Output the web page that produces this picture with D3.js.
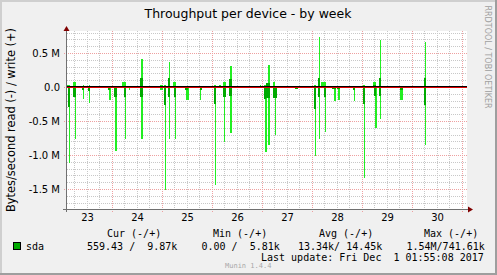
<!DOCTYPE html>
<html>
<head>
<meta charset="utf-8">
<script src="https://cdn.jsdelivr.net/npm/d3@7"></script>
<style>
  body { margin: 0; background: #ffffff; }
  svg text { font-family: "DejaVu Sans", sans-serif; }
  svg text.mono { font-family: "DejaVu Sans Mono", monospace; white-space: pre; }
</style>
</head>
<body>
<svg id="chart" width="497" height="275"></svg>
<script>
// Samples: [start hour, end hour, value in M bytes/s], hours counted from Nov 23 00:00
// write (+) peaks, light green
let writePeak = [
  [2.2, 3.8, 0.03], [5.0, 6.5, 0.07], [9.6, 10.1, 0.03], [12.7, 13.2, 0.03],
  [17.8, 18.2, 0.02], [28.6, 30.5, 0.08], [33.1, 33.6, 0.02], [37.9, 38.6, 0.41],
  [47.0, 48.2, 0.03], [48.5, 49.7, 0.03], [51.1, 51.8, 0.37], [53.0, 54.7, 0.07],
  [72.5, 73.7, 0.03], [75.1, 76.1, 0.03], [77.0, 78.5, 0.08], [80.6, 81.4, 0.31],
  [86.9, 87.4, 0.02], [94.6, 95.3, 0.03], [96.5, 97.9, 0.03], [98.4, 99.6, 0.32],
  [101.0, 102.0, 0.07], [111.6, 113.0, 0.02], [113.5, 114.5, 0.02], [117.1, 118.3, 0.02],
  [120.5, 121.9, 0.03], [122.9, 123.6, 0.73], [124.3, 126.5, 0.07], [127.9, 131.3, 0.02],
  [135.1, 137.0, 0.02], [140.6, 141.4, 0.02], [144.0, 145.4, 0.03], [146.9, 147.8, 0.02],
  [148.8, 150.7, 0.07], [152.2, 153.1, 0.69], [159.8, 161.0, 0.02], [163.9, 164.9, 0.02],
  [173.8, 174.7, 0.66],
];

// write (+) averages, dark green
let writeAvg = [
  [5.0, 5.8, 0.02], [28.6, 30.0, 0.02], [37.4, 38.6, 0.13], [50.4, 51.8, 0.13],
  [52.6, 54.0, 0.02], [79.9, 81.4, 0.12], [97.9, 99.6, 0.06], [122.4, 123.6, 0.13],
  [148.8, 150.5, 0.03], [151.7, 153.1, 0.13], [173.3, 174.7, 0.13],
];

// read (-) peaks, light green
let readPeak = [
  [3.1, 3.6, -1.12], [6.0, 6.5, -0.76], [9.6, 10.1, -0.17], [12.7, 13.2, -0.23],
  [22.3, 23.3, -0.19], [25.0, 26.2, -0.94], [29.8, 30.5, -0.77], [31.7, 32.2, -0.04],
  [37.9, 38.6, -0.76], [47.0, 48.0, -0.05], [49.0, 49.7, -1.52], [51.1, 51.6, -0.77],
  [53.8, 54.5, -0.76], [59.5, 60.5, -0.19], [66.2, 66.7, -0.19], [73.0, 73.7, -1.44],
  [77.5, 78.2, -0.81], [80.6, 81.4, -0.68], [97.0, 98.2, -0.96], [98.6, 99.4, -0.86],
  [101.8, 102.5, -0.71], [121.0, 121.9, -1.01], [122.9, 123.4, -0.76], [125.8, 126.5, -0.66],
  [130.1, 131.3, -0.2], [132.0, 133.2, -0.19], [139.7, 140.4, -0.2], [144.5, 145.4, -1.34],
  [150.0, 151.0, -0.6], [152.2, 152.9, -0.47], [162.2, 163.2, -0.19], [173.8, 174.2, -0.86],
  [174.2, 174.7, -0.63],
];

// read (-) averages, dark green
let readAvg = [
  [2.6, 3.8, -0.29], [5.0, 6.5, -0.15], [9.4, 10.1, -0.04], [12.2, 13.2, -0.06],
  [21.8, 22.8, -0.04], [24.7, 26.2, -0.14], [29.5, 30.5, -0.15], [37.4, 38.6, -0.14],
  [48.5, 49.7, -0.26], [50.4, 51.8, -0.14], [53.5, 54.7, -0.14], [59.0, 60.2, -0.05],
  [65.8, 67.0, -0.04], [72.5, 73.7, -0.25], [77.0, 78.5, -0.14], [79.9, 81.4, -0.13],
  [96.5, 97.9, -0.17], [97.9, 99.6, -0.16], [101.0, 103.0, -0.16], [111.6, 113.0, -0.02],
  [120.5, 121.9, -0.33], [122.4, 123.6, -0.14], [125.5, 126.5, -0.14], [129.6, 131.3, -0.03],
  [131.8, 133.2, -0.03], [139.2, 140.6, -0.04], [144.0, 145.4, -0.25], [149.3, 150.7, -0.13],
  [151.7, 153.1, -0.13], [161.8, 163.2, -0.04], [173.3, 174.5, -0.26],
];

// Axis labels
let dayLabels = ["23", "24", "25", "26", "27", "28", "29", "30"];
let yTicks = [0.5, 0, -0.5, -1.0, -1.5];
let yTickLabels = ["0.5 M", "0.0", "-0.5 M", "-1.0 M", "-1.5 M"];

// Legend
let legendHeads = ["Cur (-/+)", "Min (-/+)", "Avg (-/+)", "Max (-/+)"];
let legendValues = ["559.43 /  9.87k", "0.00 /  5.81k", "13.34k/ 14.45k", "1.54M/741.61k"];
let lastUpdate = "Last update: Fri Dec  1 01:55:08 2017";

// Colors
const lightGreen = "#22ee22";
const darkGreen = "#00aa00";

let svg = d3.select("#chart");

// Plot box
const plot = { left: 67, right: 467, top: 31, bottom: 209 };

// Scales: 50px per day, 68px per 1M
let x = d3.scaleLinear().domain([0, 192]).range([62.5, 462.5]);
let y = d3.scaleLinear().domain([-1.8, 0.8]).range([209.4, 32.6]);

// Background with 3D frame
svg.append("rect").attr("width", 497).attr("height", 275).attr("fill", "#f0f0f0");
svg.append("path").attr("d", "M0,0H497V2H2V275H0Z").attr("fill", "#cfcfcf");
svg.append("path").attr("d", "M497,0V275H0V273H495V0Z").attr("fill", "#9e9e9e");

svg.append("rect")
  .attr("x", plot.left)
  .attr("y", plot.top)
  .attr("width", plot.right - plot.left)
  .attr("height", plot.bottom - plot.top)
  .attr("fill", "#ffffff");

// Grid: minor every 6h / 0.1M, major every day / 0.5M
let hours = d3.range(6, 192 + 1, 6).filter((h) => x(h) > plot.left && x(h) < plot.right);
let levels = d3.range(-17, 9).map((i) => i / 10);

let grid = svg.append("g").attr("shape-rendering", "crispEdges");

grid.selectAll(".vgrid")
  .data(hours)
  .enter()
  .append("line")
  .attr("x1", (h) => Math.round(x(h)) - 0.5)
  .attr("x2", (h) => Math.round(x(h)) - 0.5)
  .attr("y1", plot.top)
  .attr("y2", (h) => (h % 24 === 0 ? plot.bottom + 3 : plot.bottom))
  .attr("stroke", (h) => (h % 24 === 0 ? "#eea0a0" : "#c8c8c8"))
  .attr("stroke-dasharray", "1,1");

grid.selectAll(".hgrid")
  .data(levels)
  .enter()
  .append("line")
  .attr("x1", (v) => (Math.abs(v * 10) % 5 === 0 ? plot.left - 3 : plot.left))
  .attr("x2", plot.right)
  .attr("y1", (v) => Math.round(y(v)) + 0.5)
  .attr("y2", (v) => Math.round(y(v)) + 0.5)
  .attr("stroke", (v) => (Math.abs(v * 10) % 5 === 0 ? "#eea0a0" : "#c8c8c8"))
  .attr("stroke-dasharray", "1,1");

// Bars: peaks first, averages on top
const zeroY = Math.round(y(0));

function drawBars(data, color, cls) {
  svg.append("g")
    .attr("shape-rendering", "crispEdges")
    .selectAll("." + cls)
    .data(data)
    .enter()
    .append("rect")
    .attr("class", cls)
    .attr("x", (d) => Math.round(x(d[0])))
    .attr("width", (d) => Math.max(1, Math.round(x(d[1])) - Math.round(x(d[0]))))
    .attr("y", (d) => (d[2] > 0 ? Math.round(y(d[2])) : zeroY + 1))
    .attr("height", (d) =>
      d[2] > 0 ? zeroY - Math.round(y(d[2])) : Math.max(1, Math.round(y(d[2])) - zeroY - 1)
    )
    .attr("fill", color);
}

drawBars(writePeak, lightGreen, "wpeak");
drawBars(readPeak, lightGreen, "rpeak");
drawBars(writeAvg, darkGreen, "wavg");
drawBars(readAvg, darkGreen, "ravg");

// Zero line (black over red)
svg.append("rect").attr("x", plot.left).attr("y", zeroY - 1).attr("width", plot.right - plot.left).attr("height", 1).attr("fill", "#000000");
svg.append("rect").attr("x", plot.left).attr("y", zeroY).attr("width", plot.right - plot.left).attr("height", 1).attr("fill", "#e00000");

// Axes lines with arrows
svg.append("rect").attr("x", 66).attr("y", 29).attr("width", 1).attr("height", 183).attr("fill", "#707070");
svg.append("rect").attr("x", 63).attr("y", 209).attr("width", 406).attr("height", 1).attr("fill", "#707070");
svg.append("path").attr("d", "M63.5,31L66.5,26L69.5,31Z").attr("fill", "#800000");
svg.append("path").attr("d", "M468,206.5L473,209.5L468,212.5Z").attr("fill", "#800000");

// Y tick labels
svg.selectAll(".ylabel")
  .data(yTicks)
  .enter()
  .append("text")
  .attr("class", "ylabel")
  .attr("x", 60)
  .attr("y", (v) => Math.round(y(v)) + 3.5)
  .attr("text-anchor", "end")
  .attr("font-size", "10px")
  .attr("fill", "#000")
  .text((v, i) => yTickLabels[i]);

// X day labels at noon
svg.selectAll(".xlabel")
  .data(dayLabels)
  .enter()
  .append("text")
  .attr("class", "xlabel")
  .attr("x", (d, i) => x(12 + i * 24))
  .attr("y", 221)
  .attr("text-anchor", "middle")
  .attr("font-size", "10px")
  .text((d) => d);

// Title
svg.append("text")
  .attr("x", 248)
  .attr("y", 18)
  .attr("text-anchor", "middle")
  .attr("font-size", "12.5px")
  .text("Throughput per device - by week");

// Y axis title
svg.append("text")
  .attr("transform", "translate(14.5,120) rotate(-90)")
  .attr("text-anchor", "middle")
  .attr("font-size", "11.4px")
  .text("Bytes/second read (-) / write (+)");

// Watermark
svg.append("text")
  .attr("transform", "translate(484.5,57) rotate(90)")
  .attr("text-anchor", "middle")
  .attr("font-size", "8px")
  .attr("fill", "#a0a0a0")
  .text("RRDTOOL / TOBI OETIKER");

// Legend
let headX = [107, 213, 319, 424];
let valueX = [87, 201.5, 298, 406.5];

svg.selectAll(".lhead")
  .data(legendHeads)
  .enter()
  .append("text")
  .attr("class", "mono")
  .attr("x", (d, i) => headX[i])
  .attr("y", 237)
  .attr("font-size", "10px")
  .text((d) => d);

svg.append("rect")
  .attr("x", 13.5)
  .attr("y", 242.5)
  .attr("width", 7)
  .attr("height", 7)
  .attr("fill", darkGreen)
  .attr("stroke", "#000000");

svg.append("text").attr("class", "mono").attr("x", 26).attr("y", 250).attr("font-size", "10px").text("sda");

svg.selectAll(".lvalue")
  .data(legendValues)
  .enter()
  .append("text")
  .attr("class", "mono")
  .attr("x", (d, i) => valueX[i])
  .attr("y", 250)
  .attr("font-size", "10px")
  .text((d) => d);

svg.append("text").attr("class", "mono").attr("x", 261).attr("y", 261).attr("font-size", "10px").text(lastUpdate);

svg.append("text")
  .attr("class", "mono")
  .attr("x", 225)
  .attr("y", 268)
  .attr("font-size", "7px")
  .attr("fill", "#a8a8a8")
  .text("Munin 1.4.4");
</script>
</body>
</html>
